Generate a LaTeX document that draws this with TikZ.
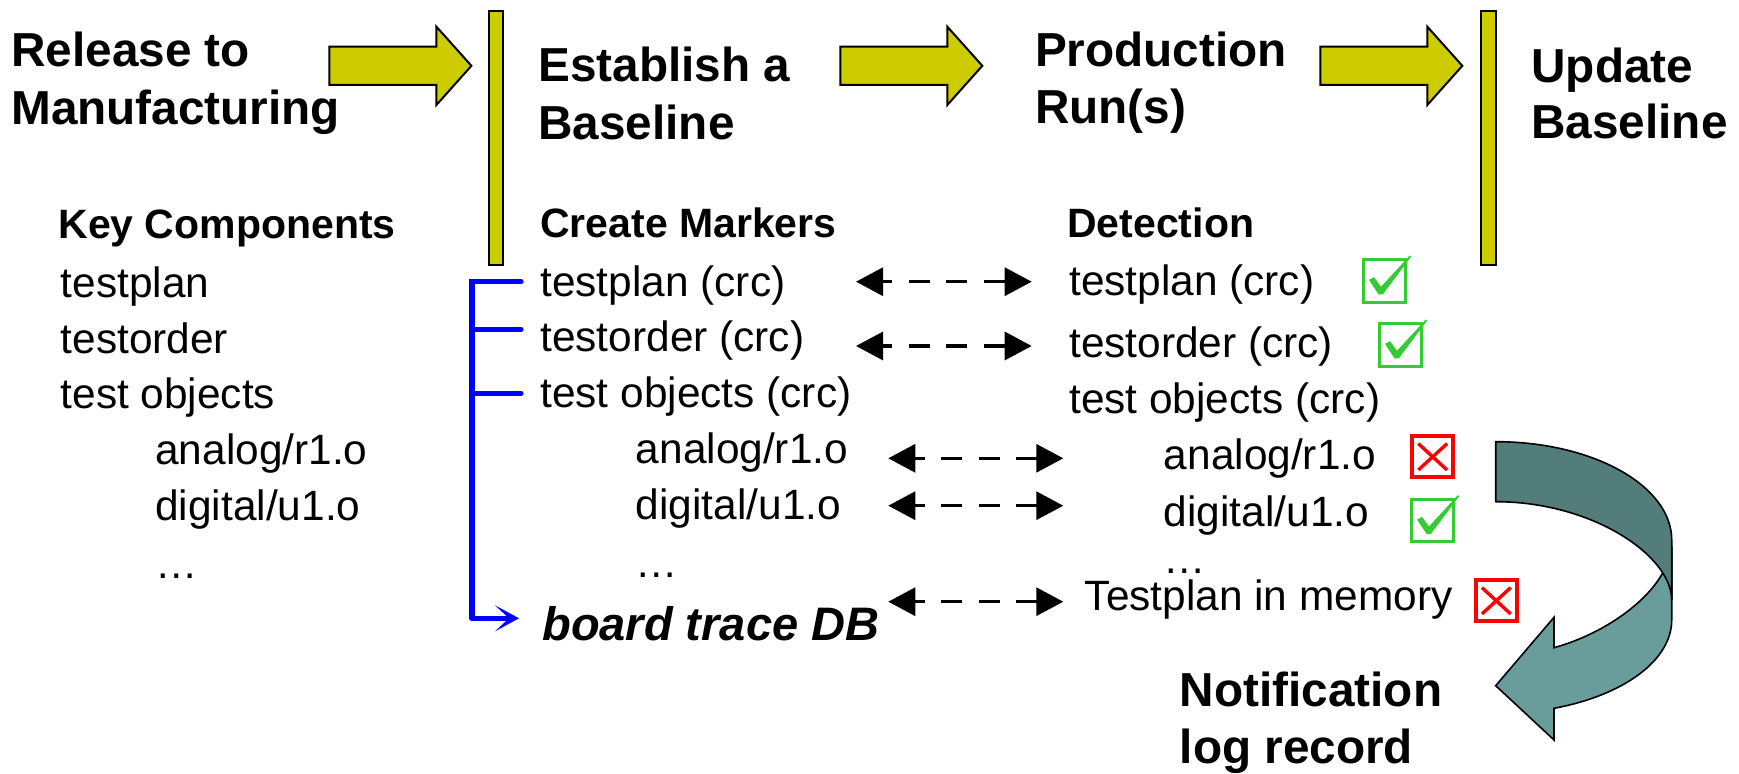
\documentclass[tikz,border=0pt]{standalone}
\usepackage{fontspec}
\setmainfont{Liberation Sans}
\usetikzlibrary{arrows.meta, positioning, calc}

\definecolor{barolive}{RGB}{204,204,0}
\definecolor{tealdark}{RGB}{82,125,123}
\definecolor{teallight}{RGB}{104,157,155}
\definecolor{passgreen}{RGB}{51,204,51}
\definecolor{failred}{RGB}{255,0,0}

% tick and cross drawn inside a named box node
\newcommand{\passmark}[1]{%
  \fill[passgreen] ([shift={(-15.5,-0.9)}]#1.center) -- ([shift={(-10.5,-3.6)}]#1.center)
    -- ([shift={(-3.5,5.9)}]#1.center) -- ([shift={(25.5,-25.5)}]#1.center)
    -- ([shift={(26.5,-24)}]#1.center)
    -- ([shift={(-1.8,13.7)}]#1.center) -- ([shift={(-5.8,13.7)}]#1.center) -- cycle;}
\newcommand{\failmark}[1]{%
  \draw[failred, line width=1.7pt] ([shift={(-14.4,-13.2)}]#1.center) -- ([shift={(14.4,13.2)}]#1.center)
    ([shift={(14.4,-13.2)}]#1.center) -- ([shift={(-14.4,13.2)}]#1.center);}

\begin{document}
\begin{tikzpicture}[
      x=0.5pt, y=-0.5pt,
      txt/.style={anchor=base west, inner sep=0pt, font=\fontsize{21.2}{25}\selectfont},
      head/.style={txt, font=\fontsize{20.5}{25}\selectfont\bfseries},
      title/.style={txt, font=\fontsize{23.85}{29}\selectfont\bfseries},
      dbtxt/.style={txt, font=\fontsize{23.5}{28}\selectfont\bfseries\itshape},
      bar/.style={draw=black, line width=1pt, fill=barolive},
      blockarr/.style={draw=black, line width=1pt, fill=barolive},
      link/.style={{Triangle[length=13.5pt, width=14pt]}-{Triangle[length=13.5pt, width=14pt]},
                   line width=1.6pt, dash pattern=on 10.5pt off 8.25pt, dash phase=5.5pt},
      bus/.style={blue, line width=2.6pt, line cap=round},
      passbox/.style={draw=passgreen, line width=1.4pt, minimum size=21.35pt, inner sep=0pt},
      failbox/.style={draw=failred, line width=2pt, minimum size=20.65pt, inner sep=0pt},
      band/.style={draw=black, line width=0.8pt}
    ]
    \useasboundingbox (0,0) rectangle (1739,774);

    % phases
    \node[title] (rel1)  at (11,66.7)     {Release to};
    \node[title] (rel2)  at (11,124.3)    {Manufacturing};
    \node[title] (est1)  at (538,81.7)    {Establish a};
    \node[title] (est2)  at (538,139.3)   {Baseline};
    \node[title] (prod1) at (1034.7,66.7) {Production};
    \node[title] (prod2) at (1034.7,124)  {Run(s)};
    \node[title] (upd1)  at (1531,82.7)   {Update};
    \node[title] (upd2)  at (1531,138.3)  {Baseline};

    \draw[blockarr] (329.4,46.7) -- ++(107,0) -- ++(0,-20) -- ++(35,39.1) -- ++(-35,39.2) -- ++(0,-20) -- ++(-107,0) -- cycle;
    \draw[blockarr] (840.3,46.7) -- ++(107,0) -- ++(0,-20) -- ++(35,39.1) -- ++(-35,39.2) -- ++(0,-20) -- ++(-107,0) -- cycle;
    \draw[blockarr] (1320.3,46.7) -- ++(107,0) -- ++(0,-20) -- ++(35,39.1) -- ++(-35,39.2) -- ++(0,-20) -- ++(-107,0) -- cycle;
    \draw[bar] (488.7,11) rectangle (503.3,265);
    \draw[bar] (1481,11) rectangle (1495.5,265);

    % column heads
    \node[head] (keyhd)  at (58,238.3)     {Key Components};
    \node[head] (markhd) at (539.8,237.3)  {Create Markers};
    \node[head] (dethd)  at (1066.9,237.3) {Detection};

    % key components
    \node[txt] (kplan)  at (60.3,297.7)  {testplan};
    \node[txt] (korder) at (60.3,353.3)  {testorder};
    \node[txt] (kobj)   at (60.3,409)    {test objects};
    \node[txt] (kana)   at (155,465)     {analog/r1.o};
    \node[txt] (kdig)   at (155,521)     {digital/u1.o};
    \node[txt] (kmore)  at (155,578.3)   {…};

    % markers
    \node[txt] (mplan)  at (540,296.5)   {testplan (crc)};
    \node[txt] (morder) at (540,352)     {testorder (crc)};
    \node[txt] (mobj)   at (540,407.5)   {test objects (crc)};
    \node[txt] (mana)   at (635.5,463.5) {analog/r1.o};
    \node[txt] (mdig)   at (635.5,519.5) {digital/u1.o};
    \node[txt] (mmore)  at (635.5,577)   {…};
    \node[dbtxt] (mdb)  at (542,640.5)   {board trace DB};

    % detection
    \node[txt] (dplan)  at (1068.8,296)  {testplan (crc)};
    \node[txt] (dorder) at (1068.8,358)  {testorder (crc)};
    \node[txt] (dobj)   at (1068.8,413.5) {test objects (crc)};
    \node[txt] (dana)   at (1163.5,470)  {analog/r1.o};
    \node[txt] (ddig)   at (1163.5,526)  {digital/u1.o};
    \node[txt] (dmore)  at (1163.5,574)  {…};
    \node[txt] (dmem)   at (1084.5,610)  {Testplan in memory};

    \node[title] (note1) at (1179.5,706)   {Notification};
    \node[title] (note2) at (1179.5,763.3) {log record};

    % results
    \node[passbox] (ok1)  at (1384.5,280.8) {};
    \node[passbox] (ok2)  at (1400.5,344.8) {};
    \node[failbox] (bad1) at (1432.7,456.8) {};
    \node[passbox] (ok3)  at (1432.5,520.5) {};
    \node[failbox] (bad2) at (1496.3,600.8) {};
    \passmark{ok1}
    \passmark{ok2}
    \passmark{ok3}
    \failmark{bad1}
    \failmark{bad2}

    % compare links
    \coordinate (la1) at (856,281.7);    \coordinate (ra1) at (1031.7,281.7);
    \coordinate (la2) at (856,346);      \coordinate (ra2) at (1031.7,346);
    \coordinate (la4) at (888.3,458.3);  \coordinate (ra4) at (1063.3,458.3);
    \coordinate (la5) at (888.3,505.7);  \coordinate (ra5) at (1063.3,505.7);
    \coordinate (la7) at (888.3,601.7);  \coordinate (ra7) at (1063.3,601.7);
    \draw[link] (la1) -- (ra1);
    \draw[link] (la2) -- (ra2);
    \draw[link] (la4) -- (ra4);
    \draw[link] (la5) -- (ra5);
    \draw[link] (la7) -- (ra7);

    % marker bus
    \coordinate (bus0) at (472,281.7);  \coordinate (busA) at (521,281.7);
    \coordinate (bus1) at (472,329.3);  \coordinate (busB) at (521,329.3);
    \coordinate (bus2) at (472,393.3);  \coordinate (busC) at (521,393.3);
    \coordinate (bus3) at (472,618.3);  \coordinate (busD) at (519,618.3);
    \draw[bus] (busA) -- (bus0) -- (bus3);
    \draw[bus] (bus1) -- (busB);
    \draw[bus] (bus2) -- (busC);
    \draw[bus, -{Stealth[length=12pt, width=13pt, inset=7pt]}] (bus3) -- (busD);

    % curved notification arrow
    \filldraw[band, fill=teallight] (1554,647.7) .. controls (1600,635) and (1645,605) .. (1662.7,572.9)
      -- (1671.7,550) -- (1671.7,620) .. controls (1671.7,659.8) and (1624.7,695.1) .. (1554,708.3)
      -- (1554,740) -- (1495.7,685.7) -- (1554,617.3) -- cycle;
    \filldraw[band, fill=tealdark] (1495.7,441.7) .. controls (1592.9,441.7) and (1671.7,485.7) .. (1671.7,540)
      -- (1671.7,600) .. controls (1671.7,556) and (1592.9,501.7) .. (1495.7,501.7) -- cycle;
  \end{tikzpicture}
\end{document}
